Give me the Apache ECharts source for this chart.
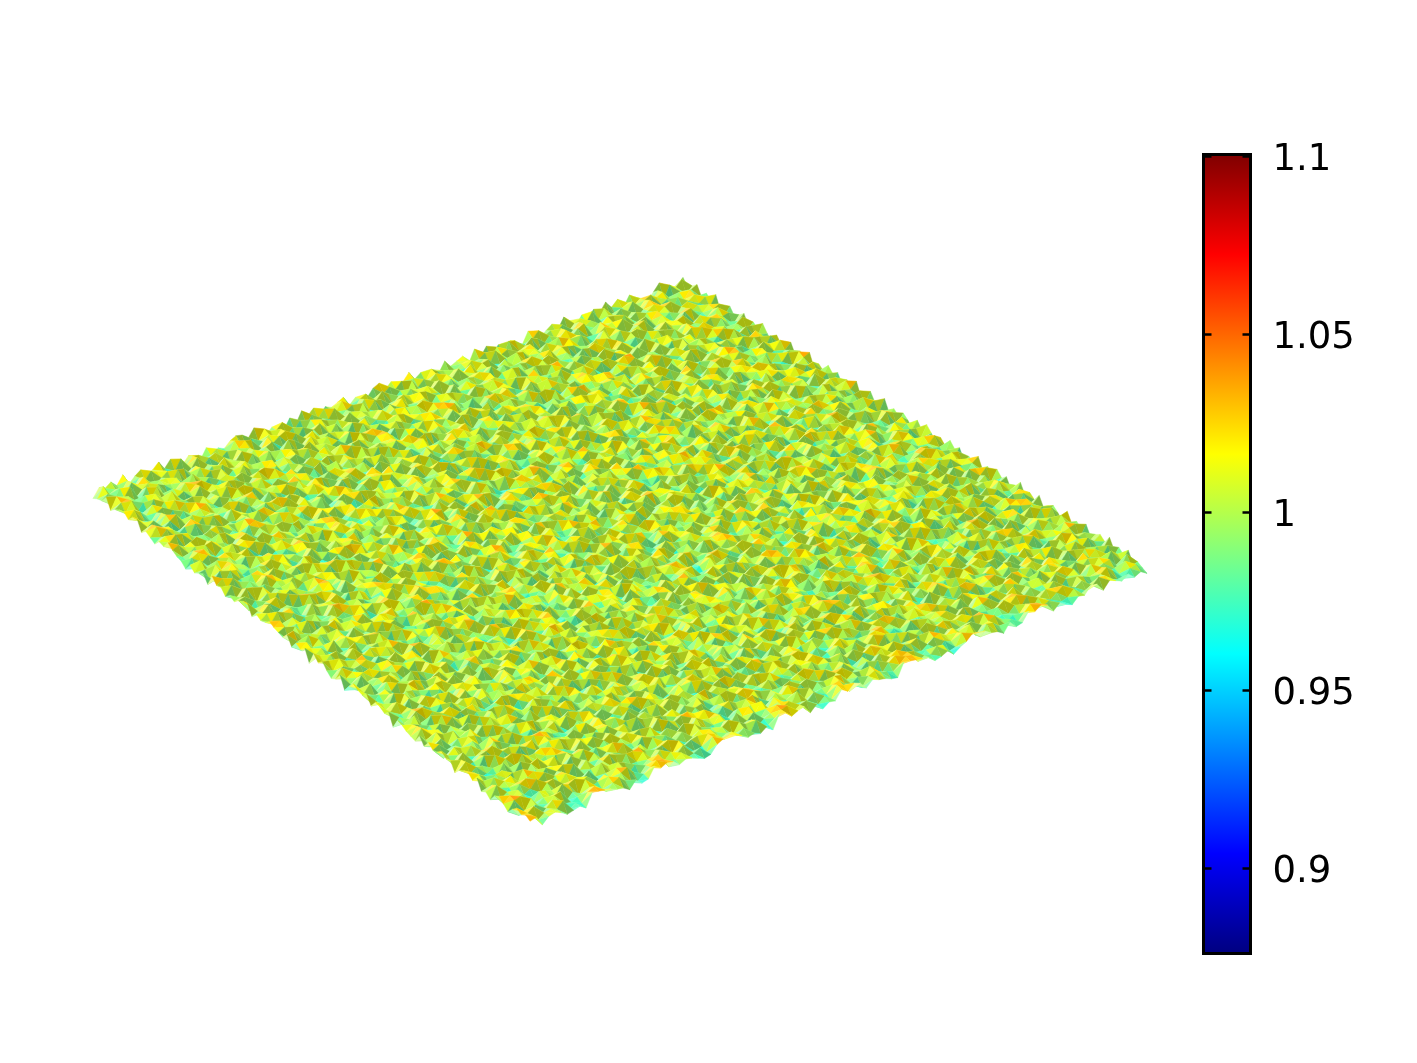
<!DOCTYPE html>
<html>
<head>
<meta charset="utf-8">
<title>surface</title>
<style>
  html, body { margin: 0; padding: 0; background: #fff; }
  #chart { width: 1417px; height: 1063px; }
</style>
<script src="https://cdn.jsdelivr.net/npm/echarts@6/dist/echarts.min.js"></script>
</head>
<body>
<div id="chart"></div>
<script>
// colorbar ticks
var tickValues = [0.9, 0.95, 1, 1.05, 1.1];
var colorMin = 0.876;
var colorMax = 1.1004;
var jetColors = ['#000080', '#0000ff', '#0080ff', '#00ffff', '#80ff80', '#ffff00', '#ff8000', '#ff0000', '#800000'];

// surface heights as one digit per mesh point, height = levelBase + digit * levelStep.
// eyeballed estimates of the noise on a coarser mesh than the original: level and
// spread follow the picture, single cells are not measured
var levelBase = 0.96;
var levelStep = 0.009;
var surfaceDigits = [
'7316940258 1849372605 9274158036 4618290753 8150639427 3972051864 6284917035 1593786240 7046128395 2851937460',
'2958071463 6402819375 1736495208 9081743652 3569207184 7412860593 0837261495 6925048137 4178392056 8360714292',
'5140386972 9273510648 4082617953 3759162840 6218473905 0694382751 9351704628 2740895163 8629301574 1495827063',
'8627153094 0516784329 7395240186 6142087395 9483610572 5127839064 2068537149 7493162805 3051748926 6274093518',
'1394702685 3748165902 2651908374 8907316254 0371958426 8640215739 4715960382 1086273945 9562810374 5738026491',
'6085219743 7132946850 5809473162 2534719086 7126045893 3958172640 6382049517 9205748163 4817359062 0392615874',
'3741860529 4865027391 1246783950 9670351842 4839216075 1507394286 8126735940 3671902485 5190624783 7148350926',
'9206475138 2097538164 8530162497 3148920765 6501783249 7293640158 0473182596 6840317259 2375019846 4926801537',
'0573198246 6314872059 3978240615 7820546391 1947260583 4068915723 5290647318 1758294603 8641573920 3507182694',
'4862310975 9527061483 6401735298 0396182754 8052371964 2751684039 7914053862 4036271985 0289465137 6193750248',
'7190584362 1783402695 2956018374 5273904681 3618049725 9405137286 1687293540 8562019347 5703926481 2846071359',
'2658743091 8046293517 7134862509 1645830297 9720514836 6183270594 4302951786 3174865209 1498207365 9360581742',
'5037129684 3592710846 0487359162 8091267453 4285693017 0926841375 7569038124 9601732854 6825370149 7214963085',
'8413065927 6271845039 9620174853 3752419068 1036728954 5734019682 2815467390 0248596173 3097148625 4582106793',
'1962748305 4905136728 5381026947 6207983514 7849150263 2368975401 9046723158 7315280946 8162493507 0739526841',
'6240395178 0738462951 2754893610 4819025376 5301862497 8610293547 3592081764 1689457203 2453706918 9168043275',
'3785910426 7164029385 8102675349 9534710682 0692734158 4957162083 6128340975 5027931684 9780156342 2601378954',
'9021467583 2893571064 4639180725 1360572849 8217406935 1743859026 7460195328 8356402719 4319827056 6875240139',
'4596832071 5120648397 0925743186 7948213650 3574961082 6082317495 2839576140 0194763852 7065238914 1423097586',
'0378156294 8451930726 6713280459 2601894375 9135087246 3529640817 5107482963 6942081537 2681549703 5890716324',
'7814203965 3607295148 1248596037 5473016892 6420718539 9176205348 8364917025 3785120496 0932476158 4056982713',
'2169570834 9742086351 8590341762 0823769154 1986243075 4801537962 1652093748 9507346821 6418725309 7325149860',
'5930846217 1568327409 3076412895 6145908237 7356192804 0268479153 4793261580 2016785934 3870514962 8692037415',
'8402713596 6093754182 9521863704 3790251486 2047589631 7593120846 0481726359 8649302175 1235697048 5147860392',
'1657290348 4218609573 2764059138 8062473915 5619307248 3814765092 9270584613 5328417960 7904263581 0963728154',
'6283041975 7835140926 5408796231 1596320847 9182640357 6027951384 3645908172 0793152846 4586719302 2371584906',
'3910578462 0274693815 7039128546 4738159026 3470825169 1649302875 7126843590 8461270953 9032865147 6805493721',
'9745126830 5169028374 1862345790 9204671583 6853971024 4982057136 5390214768 2137586409 1647930528 3514278069',
'0428367591 8503717246 4251690873 6389502714 0916248735 8365719240 1874063952 7905348126 5280716493 9670132485',
'5871930246 2946085139 8693407512 2017846359 7345160892 2590483167 6429157308 3461802975 8315942067 1248705936',
'2306548719 6781349250 0315782694 7560193428 4182607953 9721046583 0853792416 6094271583 3762089154 4957361082',
'8194075362 3157062498 9740621853 5143928670 1259734086 6405318972 4261985730 1837540629 9501426873 7089234615',
'4639281705 9420873156 2468139507 0892714365 8607592143 3176840259 8590367241 5726018394 2384679015 1562708943',
'7052163948 1836590724 6127905384 3615270849 3940156728 7852961034 2739410685 9048263157 6019735482 8345190276',
'1785429036 5609218473 3854016297 8479036152 6723814095 0214637598 5068129374 3672591840 4890127635 2916473508',
'6348902517 7294361805 0936752148 1250847396 0582169743 5963170284 9417283056 1805947362 7253684091 0674825139',
'3920617854 4071825936 7582194063 6938501274 9176340285 8741205936 3681540729 4260713598 1549062873 5308196742',
'9567281430 8316409572 1209463875 2704169853 4825093617 2307968145 7124690358 8935426071 6382170945 2781430956',
'0214753986 2958643107 5643780129 9381527046 7360182594 6492530871 0856973142 3179602584 4057391628 8913562074',
'4871036529 6420197385 8375210946 5062893417 1694725038 9035147682 6593018427 7248569310 9726504183 1460287935',
'8135694207 1703582649 2016947583 3718460259 5208917346 1876324059 4207386951 0463912875 3185247096 6592071348',
'2690418573 9268745013 6498302751 8925601374 8730264915 4523789106 9671450238 5984037162 2871690534 7034518296',
'5743260981 3041926857 0729154368 4267839105 2961573084 7148062593 1384925706 6710283495 8460357219 9328046175',
'9028175346 7586310294 4350876192 1590342768 6405917238 0693485172 5029763841 2356941708 1937206485 3615792804',
'1456903872 2179856430 8163420975 7038216549 9274380165 3860251947 7416908253 9127405683 6208574931 4760123598',
'6380247159 5824073961 2907615348 3641957802 1813562709 8274109365 2635481079 0861352794 5349810627 0597836142',
'3795126084 9360481725 5481096237 8102463975 4097285316 5916738240 8950176324 4703269518 7182640395 8241563907',
'7012589463 1647293058 9736248105 0594728136 7320948651 1208574396 3476092815 8195347026 2053978416 6409127385',
'4863170925 8053614729 1024587693 6923150847 5681207439 4762913085 0185637942 3640812579 9721546083 2937405168',
'0529348716 3927180654 6392107458 2706381495 8154962073 9037246158 6723890154 7954026138 1386075924 5168293740',
'8246701593 6410572938 8715963240 4139027568 2709345186 6480517923 1364258097 0218765493 5490318267 7853120469',
'3671952084 0285746319 3480521796 9562814073 6037418925 1975632804 9208716345 6347901852 8264153709 0419628735',
'9108436275 7539120486 7269043581 1875360942 4592806317 3124897056 5841037296 2690485713 3871629045 6502941378',
'5426087913 2164893705 0538179264 7043926158 1368720495 8056341729 0472963185 9157324068 7016483529 1785306924',
'1783629540 9018256374 4921360875 2396087451 9742153068 2693408175 6817250349 4726801935 2593170486 8340972651',
'6950413287 4376901528 8205746139 5681239074 0825694317 7410926583 3589146720 1063572894 6948025713 4271865093',
'2347861059 1685039724 1673920548 8420571963 6471308952 4865137209 7260914538 5382610947 0137469825 9506312748',
'8012975436 5792140863 6049183752 0357924186 3518042769 0329758146 4192803675 8947036152 7825360194 1693487520',
'4569328170 3028467591 9382750416 7164803295 8906571324 5781240963 9537461028 2610789435 3069158472 6280743915',
'7135086924 8641935207 2475601938 1902546873 1243897065 9016483527 0628315974 6495173208 5714290368 3857162049',
'0892743165 2350718649 5018294367 6379180524 7560214983 3642709185 8371452096 1820936547 9143762580 4026951837',
'5268190473 9157482036 7743062591 3041862975 2987305641 8234591076 5096723184 7358204169 0682417395 7915380246',
'3741509628 4906231875 0196843725 8625497130 6439018752 1703469258 2481960357 4079613825 8356029741 1362847509',
'9607832451 1783506492 3852917640 5208371964 0816523497 6958240137 7345102869 9180274563 2497130586 5798016243',
'1425069387 7269418350 6503729184 9713625048 4275961083 3186507924 1629873045 5632908714 6051847329 0346729158',
'6389271540 3045867129 9217450386 0486139725 7902348516 9470213685 8053167492 2718436095 1743260958 8512490637',
'2950714836 8610392574 1864703259 3752096841 3168750294 2594836071 4782905136 9064351728 5389174062 6037182945',
'8174362095 5482170936 4309586172 6129473058 8540126937 7016328459 0916274583 3258790146 7620493851 1749506328',
'4036598712 0917635248 7625130849 8094715263 2693584107 5841093762 6340857129 8471052936 0915267483 9283647150',
'7582103469 6324901857 2081967354 1567302984 5017269348 3265740918 1598462073 6103928574 4832706195 2560198437',
'0691847253 3758240196 8456213790 7243689150 9436128075 6902418537 7624019358 2937560481 1658349207 5804732916',
'5347260918 9146583702 3910874625 4980157326 1728905463 0387562194 3051786942 5709463128 8204716593 3196280574',
'9120786345 2605719483 6732095148 2306148759 6374250819 8145370926 9486237105 4081329756 6973502148 7642915083',
'2864530179 7481036925 0548621973 8652071394 8091536274 4729681503 2315094768 8360957142 3417896025 1058473692',
'6703915824 1039568247 9275146830 5129438067 2546719038 1603284975 6870145932 7526148390 9285034761 4921607538',
'3158642097 5724803169 1469032785 0874912356 7982043156 9356107482 4701958326 0193672584 5640379182 8074526913',
'8496027531 9860241375 4387510692 6345890127 4135862790 2780493165 8529036471 3847105926 1792463058 2615390748',
'1270394685 3472916058 7123094856 1907236548 0619372485 6514829037 1364782905 9270518463 7058216934 4839062175',
'5639481207 0815637492 2965841037 7580413692 8243605917 3098716254 7952610348 4616937205 3481907526 9147825306',
'7081526943 6293705184 5034176298 3129864075 3790148526 7425063189 0286493751 1805462379 6924350718 2503716849',
'4925730168 8147029536 8610923745 6452701893 9567182034 1903572648 5138720964 6793048125 0176589243 7390482516',
'0364817295 2590463817 3792586401 9036128745 1328450796 6847290153 9640157382 2359817640 8457126039 1682530947',
'9817205436 6738152094 0145237968 2785943016 5603971824 4216038597 3071829465 7420963158 2938640571 5049763281',
'2543069781 1406897325 6928310574 8170362459 7294186053 8579124036 6825304917 0186527493 6013479825 3762180495',
'6190734825 7359248610 9473085162 4026597183 0815623947 3040785629 1397462058 5963840172 4721058396 8214905637',
'3876521049 4021763598 1260847395 7394120865 6478319052 9136402785 7548091236 8207316594 9385627140 0597342168',
'8042957316 9583016247 5817932046 1568743290 2960745183 2758961304 4092175863 3641928075 1504793286 6923810475',
'1659380472 3217849605 7346059218 6903215847 8135290674 6407312859 8620437195 9175063482 7268140953 4381276059',
'5207164938 6940725183 2981460537 3470986152 4572061398 0891546273 1759823604 2436908517 0849317625 9705643812',
'7483926015 0856132974 8523074196 9218537604 0696314827 5273089416 6304591728 5780124639 6132758094 2519086374',
'4015278369 5372896140 1079632854 5062419873 7348120965 8640913257 3982076145 1093475862 3570918246 7286354091',
'9362810547 8124609735 4650918273 2781036594 1903657482 2316584079 7045213698 6821907345 9417260385 0843971526',
'2718495036 3690547218 7392150864 8105472936 5284906137 9750231684 2586139470 3074568129 4625083917 6159427308',
'6054173829 7418261953 0861795342 4963820157 9610372548 3428617059 8130475692 9526180743 1796342058 3872016495',
'3590826174 2935073486 5234018679 7026153948 4071582693 1862947305 6471083259 0731642598 8025917364 5146703982',
'8217649053 6183420795 9601874325 1390867254 8362419705 6017534829 3948260517 4205976183 3682410759 7934528106',
'1903275468 0527841936 2315907648 5874120396 2704563891 4380915726 0732196485 7649208351 5168374290 4087316259',
'4381596027 4096358172 3148650927 3512407869 6139052487 2073418695 3065814279 2018473965 0497281563 3125840967',
'2650137842 1732064895 0423781569 1067342895 2458603179 0512763984 1280637459 0532741896 3014862597 1308465279',
'0315246178 3402517968 2160347895 3042156789 0134627958 2305176489 0413257986 1024537869 2150346789 0321465187'
];

var hScale = 1.6; // px for 0.01 of height
var corners = { top: [683, 281], right: [1147, 567], left: [93, 492], bottom: [530, 825] };

var surfaceRows = surfaceDigits.map(function (row) {
  return row.replace(/ /g, '').split('').map(function (ch) {
    return levelBase + Number(ch) * levelStep;
  });
});
var nu = surfaceRows.length - 1;
var nv = surfaceRows[0].length - 1;

var triData = [];
for (var u = 0; u < nu; u++) {
  for (var v = 0; v < nv; v++) {
    var a = surfaceRows[u][v], b = surfaceRows[u + 1][v], c = surfaceRows[u][v + 1], d = surfaceRows[u + 1][v + 1];
    triData.push([u, v, 0, (a + b + c) / 3]);
    triData.push([u, v, 1, (b + c + d) / 3]);
  }
}

function project(api, rect, gu, gv) {
  var p = api.coord([gu, gv]);
  var fu = (p[0] - rect.x) / rect.width;
  var fv = (p[1] - rect.y) / rect.height;
  var x = corners.top[0] * (1 - fu) * (1 - fv) + corners.right[0] * fu * (1 - fv) + corners.left[0] * (1 - fu) * fv + corners.bottom[0] * fu * fv;
  var y = corners.top[1] * (1 - fu) * (1 - fv) + corners.right[1] * fu * (1 - fv) + corners.left[1] * (1 - fu) * fv + corners.bottom[1] * fu * fv;
  return [x, y - (surfaceRows[gu][gv] - 1) * 100 * hScale];
}

function shadeColor(color, f) {
  var c = echarts.color.parse(color);
  for (var i = 0; i < 3; i++) {
    c[i] = f < 1 ? c[i] * f : c[i] + (255 - c[i]) * (f - 1);
    c[i] = Math.round(c[i]);
  }
  return 'rgb(' + c[0] + ',' + c[1] + ',' + c[2] + ')';
}

function renderTriangle(params, api) {
  var u = api.value(0), v = api.value(1), tri = api.value(2);
  var rect = params.coordSys;
  var pts, dzu, dzv;
  if (tri === 0) {
    pts = [project(api, rect, u, v), project(api, rect, u + 1, v), project(api, rect, u, v + 1)];
    dzu = surfaceRows[u + 1][v] - surfaceRows[u][v];
    dzv = surfaceRows[u][v + 1] - surfaceRows[u][v];
  } else {
    pts = [project(api, rect, u + 1, v), project(api, rect, u + 1, v + 1), project(api, rect, u, v + 1)];
    dzu = surfaceRows[u + 1][v + 1] - surfaceRows[u][v + 1];
    dzv = surfaceRows[u + 1][v + 1] - surfaceRows[u + 1][v];
  }
  var f = 1.12 + 8 * dzu - 2 * dzv;
  f = Math.max(0.72, Math.min(1.55, f));
  var color = shadeColor(api.visual('color'), f);
  return {
    type: 'polygon',
    shape: { points: pts },
    style: { fill: color, stroke: color, lineWidth: 0.4 },
    silent: true
  };
}

var chart = echarts.init(document.getElementById('chart'), null, { renderer: 'canvas' });
chart.setOption({
  backgroundColor: '#fff',
  animation: false,
  textStyle: { fontFamily: 'DejaVu Sans' },
  visualMap: {
    type: 'continuous',
    show: false,
    seriesIndex: 0,
    dimension: 3,
    min: colorMin,
    max: colorMax,
    inRange: { color: jetColors }
  },
  grid: [
    { left: 92, top: 278, width: 1056, height: 550 },
    { left: 1203.5, top: 154.5, width: 47, height: 799, show: true, borderWidth: 3, borderColor: '#000', backgroundColor: 'transparent', z: 5 }
  ],
  xAxis: [
    { type: 'value', gridIndex: 0, min: 0, max: nu, show: false },
    { type: 'category', gridIndex: 1, data: ['colorbar'], show: false }
  ],
  yAxis: [
    { type: 'value', gridIndex: 0, min: 0, max: nv, inverse: true, show: false },
    {
      type: 'value', gridIndex: 1, position: 'left', min: colorMin, max: colorMax, z: 6,
      axisLine: { show: false }, splitLine: { show: false }, axisLabel: { show: false },
      axisTick: { show: true, inside: true, length: 8, lineStyle: { color: '#000', width: 2.5 }, customValues: tickValues }
    },
    {
      type: 'value', gridIndex: 1, position: 'right', min: colorMin, max: colorMax, z: 6,
      axisLine: { show: false }, splitLine: { show: false },
      axisTick: { show: true, inside: true, length: 8, lineStyle: { color: '#000', width: 2.5 }, customValues: tickValues },
      axisLabel: {
        show: true, margin: 22, customValues: tickValues,
        formatter: function (val) { return '{v|' + val + '}'; },
        rich: { v: { fontSize: 37, color: '#000', fontFamily: 'DejaVu Sans', padding: [8, 0, 0, 0] } }
      }
    }
  ],
  series: [
    {
      type: 'custom',
      xAxisIndex: 0,
      yAxisIndex: 0,
      coordinateSystem: 'cartesian2d',
      renderItem: renderTriangle,
      data: triData,
      progressive: 0,
      animation: false
    },
    {
      type: 'bar',
      xAxisIndex: 1,
      yAxisIndex: 2,
      barWidth: '100%',
      silent: true,
      data: [colorMax],
      itemStyle: {
        color: new echarts.graphic.LinearGradient(0, 1, 0, 0, jetColors.map(function (col, i) {
          return { offset: i / (jetColors.length - 1), color: col };
        }))
      }
    }
  ]
});
</script>
</body>
</html>
